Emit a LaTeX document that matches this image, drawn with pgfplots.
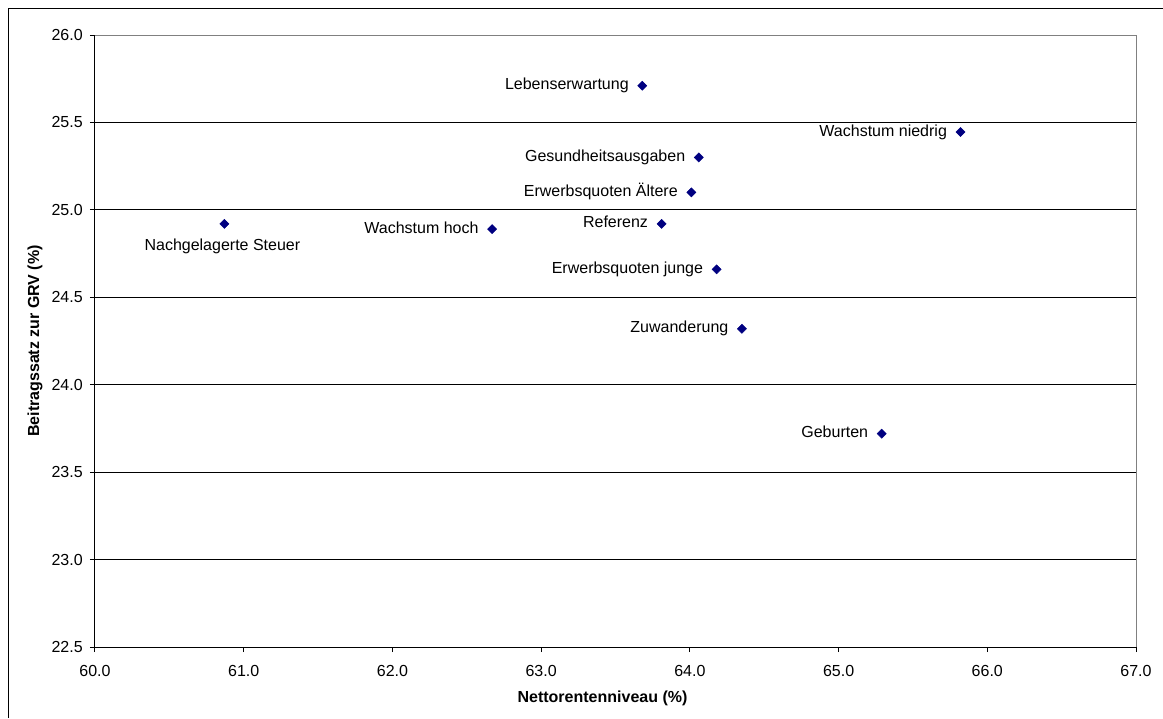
\documentclass[border=0pt]{standalone}
\usepackage{pgfplots}
\usepackage{pgfplotstable}
\usepackage{fontspec}
\setmainfont{Liberation Sans}
\pgfplotsset{compat=1.18}
\usetikzlibrary{calc}

\definecolor{markblue}{HTML}{000080}
\definecolor{frame}{HTML}{808080}

% scenario results: net replacement rate vs. contribution rate
% (labels set to the left of the point)
\pgfplotstableread[col sep=comma]{
x,y,label
63.68,25.71,Lebenserwartung
65.82,25.445,Wachstum niedrig
64.06,25.30,Gesundheitsausgaben
64.01,25.10,Erwerbsquoten Ältere
63.81,24.92,Referenz
62.67,24.89,Wachstum hoch
64.18,24.66,Erwerbsquoten junge
64.35,24.32,Zuwanderung
65.29,23.72,Geburten
}\scenleft
% (label set below the point)
\pgfplotstableread[col sep=comma]{
x,y,label
60.87,24.92,Nachgelagerte Steuer
}\scenbelow

\tikzset{
  scenlabel/.style={
    inner sep=0pt, text height=8.6pt, text depth=2.5pt, black,
    font=\fontsize{12pt}{14pt}\selectfont},
}
\pgfplotsset{
  scenario/.style={
    only marks,
    mark=square*,
    mark size=2.4pt,
    mark options={rotate=45, fill=markblue, draw=markblue},
    point meta=explicit symbolic,
    nodes near coords,
  },
}

\begin{document}
\fontsize{12pt}{14pt}\selectfont
\begin{tikzpicture}[x=0.75pt,y=0.75pt]
\begin{axis}[
  scale only axis,
  width=780.75pt, height=459pt,
  xmin=60, xmax=67, ymin=22.5, ymax=26,
  xtick={60,61,...,67},
  ytick={22.5,23,...,26},
  tick align=outside,
  major tick length=3.75pt,
  xtick pos=bottom, ytick pos=left,
  /pgf/number format/assume math mode=true,
  /pgf/number format/.cd, fixed, fixed zerofill, precision=1, /pgfplots/.cd,
  xticklabel style={anchor=north, inner sep=0pt, yshift=-9.75pt},
  yticklabel style={anchor=east, inner sep=0pt, xshift=-5.25pt},
  ymajorgrids,
  major grid style={black, line width=0.75pt},
  axis line style={black, line width=0.75pt},
  axis x line*=bottom, axis y line*=left,
  tick style={black, line width=0.75pt},
  xlabel={\bfseries Nettorentenniveau (\%)},
  ylabel={\bfseries Beitragssatz zur GRV (\%)},
  xlabel style={at={(axis description cs:0.5,0)}, anchor=center, yshift=-38.25pt, xshift=-9.75pt},
  ylabel style={at={(axis description cs:0,0.5)}, anchor=center, rotate=0, yshift=45pt},
  clip=false,
]
\coordinate (plotLL) at (rel axis cs:0,0);
% plot-area border on the top and right
\draw[frame, line width=0.75pt] (rel axis cs:0,1) -- (rel axis cs:1,1) -- (rel axis cs:1,0);
\addplot[scenario,
  nodes near coords style={scenlabel, anchor=east, xshift=-10pt},
] table[x=x, y=y, meta=label] {\scenleft};
\addplot[scenario,
  nodes near coords style={scenlabel, anchor=center, xshift=-1.5pt, yshift=-17pt},
] table[x=x, y=y, meta=label] {\scenbelow};
\end{axis}
% chart area: plot area sits 95 units from the left and 71 from the bottom
\coordinate (chartLL) at ($(plotLL)+(-95,-71)$);
% outer chart frame
\draw[black, line width=0.75pt] ($(chartLL)+(9,0)$) -- ($(chartLL)+(9,709)$) -- ($(chartLL)+(1170,709)$);
\pgfresetboundingbox
\useasboundingbox (chartLL) rectangle ($(chartLL)+(1163,718)$);
\end{tikzpicture}
\end{document}
